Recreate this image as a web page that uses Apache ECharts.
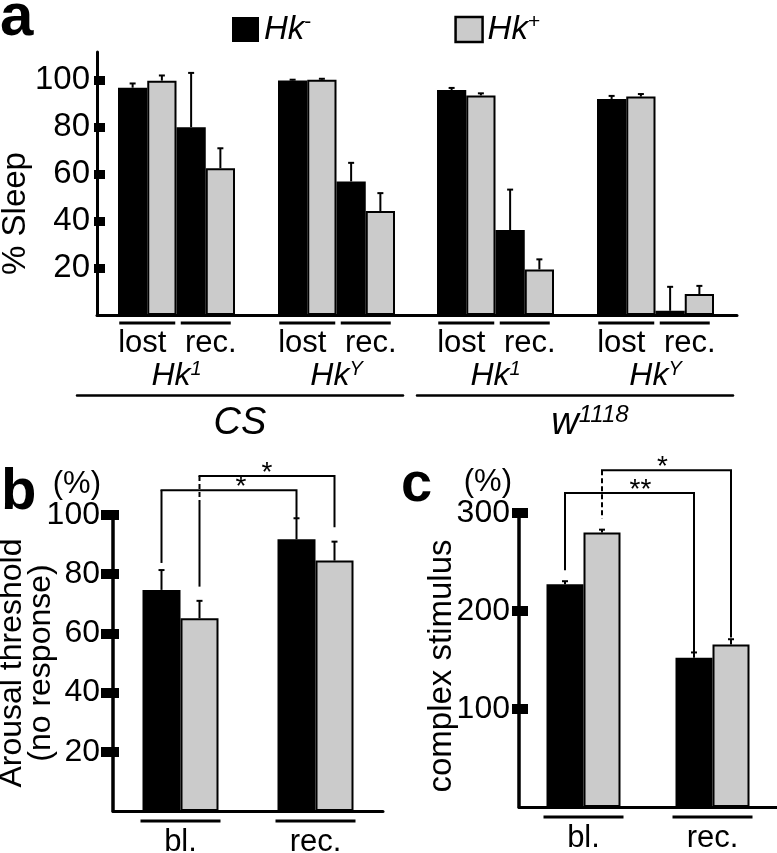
<!DOCTYPE html>
<html>
<head>
<meta charset="utf-8">
<script src="https://cdn.jsdelivr.net/npm/echarts@6/dist/echarts.min.js"></script>
<style>html,body{margin:0;padding:0;background:#fff}#main{width:777px;height:853px}</style>
</head>
<body>
<div id="main"></div>
<script>
// ---------------- data ----------------
const seriesNames = ['Hk-', 'Hk+'];
// panel a
const sleepCats = ['lost', 'rec.'];
const sleepGenotypes = ['{i|Hk}{s|1}', '{i|Hk}{s|Y}', '{i|Hk}{s|1}', '{i|Hk}{s|Y}'];
const sleepStrains = ['{i|CS}', '{i|w}{s|1118}'];
const sleepHkMinus = [96.8, 80.0, 99.9, 56.9, 95.8, 36.2, 92.0, 1.8];
const sleepHkMinusErr = [1.8, 23.1, 0.3, 7.9, 0.9, 17.2, 1.3, 10.2];
const sleepHkPlus = [99.8, 62.5, 100.2, 44.3, 93.5, 19.4, 93.0, 8.9];
const sleepHkPlusErr = [2.2, 8.5, 0.4, 7.6, 0.9, 4.3, 1.1, 3.5];
const sleepTicks = [20, 40, 60, 80, 100];
// panel b
const arousalCats = ['bl.', 'rec.'];
const arousalHkMinus = [74.7, 91.8];
const arousalHkMinusErr = [6.7, 7.1];
const arousalHkPlus = [65.1, 84.6];
const arousalHkPlusErr = [5.9, 6.4];
const arousalTicks = [20, 40, 60, 80, 100];
// brackets: [catFrom, seriesFrom, legFrom, catTo, seriesTo, legTo, level]
const arousalBrackets = [[0, 0, 83.8, 1, 0, 99.0, 108.4], [0, 1, 75.8, 1, 1, 95.9, 113.2]];
const arousalMarks = ['*', '*'];
// panel c
const complexCats = ['bl.', 'rec.'];
const complexHkMinus = [227.3, 152.2];
const complexHkMinusErr = [3.1, 5.5];
const complexHkPlus = [280.0, 165.8];
const complexHkPlusErr = [3.0, 5.4];
const complexTicks = [100, 200, 300];
const complexBrackets = [[0, 0, 241.6, 1, 0, 156.7, 320.4], [0, 1, 294.3, 1, 1, 173.0, 343.5]];
const complexMarks = ['**', '*'];

// ---------------- style ----------------
const FONT = 'Liberation Sans, Arial, Helvetica, sans-serif';
const BLACK = '#000000';
const GRAY = '#cbcbcb';
const barStyles = [
  { color: BLACK, borderColor: BLACK, borderWidth: 2 },
  { color: GRAY, borderColor: BLACK, borderWidth: 2 }
];
const subLefts = [118, 278, 437, 597];

function errRenderer(offsetFn) {
  return function (params, api) {
    const cat = api.value(0), mean = api.value(1), err = api.value(2);
    const p0 = api.coord([cat, mean]);
    const p1 = api.coord([cat, mean + err]);
    const x = p0[0] + offsetFn(api);
    const st = { stroke: BLACK, lineWidth: 2 };
    return {
      type: 'group', children: [
        { type: 'line', shape: { x1: x, y1: p0[1], x2: x, y2: p1[1] }, style: st },
        { type: 'line', shape: { x1: x - 3, y1: p1[1], x2: x + 3, y2: p1[1] }, style: st }
      ]
    };
  };
}
function bracketRenderer(half, marks, dashes, markShift) {
  return function (params, api) {
    const c1 = api.value(0), s1 = api.value(1), l1 = api.value(2);
    const c2 = api.value(3), s2 = api.value(4), l2 = api.value(5), lv = api.value(6);
    const a = api.coord([c1, l1]), b = api.coord([c2, l2]), top = api.coord([c1, lv]);
    const x1 = a[0] + (s1 ? half : -half), x2 = b[0] + (s2 ? half : -half);
    const yL = top[1];
    const st = { stroke: BLACK, lineWidth: 2 };
    const dash = dashes[params.dataIndex];
    const kids = [];
    if (dash > 0) {
      const yd = Math.min(a[1], yL + dash);
      kids.push({ type: 'line', shape: { x1: x1, y1: yL, x2: x1, y2: yd }, style: { stroke: BLACK, lineWidth: 2, lineDash: [5, 3] } });
      if (yd < a[1]) kids.push({ type: 'line', shape: { x1: x1, y1: yd, x2: x1, y2: a[1] }, style: st });
    } else {
      kids.push({ type: 'line', shape: { x1: x1, y1: a[1], x2: x1, y2: yL }, style: st });
    }
    kids.push({ type: 'polyline', shape: { points: [[x1 - 1, yL], [x2, yL], [x2, b[1]]] }, style: { stroke: BLACK, lineWidth: 2, fill: null } });
    kids.push({ type: 'text', style: { text: marks[params.dataIndex], x: (x1 + x2) / 2 + markShift[params.dataIndex], y: yL - 3, align: 'center', verticalAlign: 'middle', font: '28px ' + FONT, fill: BLACK } });
    return { type: 'group', children: kids };
  };
}

const grids = [];
const xAxes = [];
const yAxes = [];
const series = [];

// ---- panel a frame ----
grids.push({ left: 97, top: 52, width: 640, height: 263, outerBoundsMode: 'none' });
xAxes.push({ gridIndex: 0, type: 'category', data: [''], axisLine: { lineStyle: { color: BLACK, width: 3 } }, axisTick: { show: false }, axisLabel: { show: false } });
yAxes.push({
  gridIndex: 0, type: 'value', position: 'left', min: 0, max: 112, splitLine: { show: false },
  axisLine: { show: true, lineStyle: { color: BLACK, width: 3 } },
  axisTick: { show: true, length: 3, customValues: sleepTicks, lineStyle: { color: BLACK, width: 9 } },
  axisLabel: { customValues: sleepTicks, fontSize: 33, fontFamily: FONT, color: BLACK, margin: 7 },
  name: '% Sleep', nameLocation: 'middle', nameRotate: 90, nameGap: 65, nameMoveOverlap: false,
  nameTextStyle: { fontSize: 33, fontFamily: FONT, color: BLACK, padding: [0, 60, 0, 0] }
});
yAxes.push({
  gridIndex: 0, type: 'value', position: 'left', offset: 0, min: 0, max: 112, splitLine: { show: false },
  axisLine: { show: false }, axisLabel: { show: false },
  axisTick: { show: true, inside: true, length: 8, customValues: sleepTicks, lineStyle: { color: BLACK, width: 9 } }
});

// ---- panel a sub grids ----
const catLabelRich = {
  u0: { width: 46, height: 3, lineHeight: 6, backgroundColor: BLACK, padding: [0, 10, 0, 0] },
  t0: { fontSize: 31, lineHeight: 34, fontFamily: FONT, color: BLACK, padding: [0, 10, 0, 0] },
  u1: { width: 46, height: 3, lineHeight: 6, backgroundColor: BLACK, padding: [0, 0, 0, 4] },
  t1: { fontSize: 31, lineHeight: 34, fontFamily: FONT, color: BLACK, padding: [0, 0, 0, 10] }
};
for (let i = 0; i < 4; i++) {
  const g = grids.length;
  grids.push({ left: subLefts[i], top: 52, width: 117, height: 263, outerBoundsMode: 'none' });
  const xi = xAxes.length;
  xAxes.push({
    gridIndex: g, type: 'category', data: sleepCats,
    axisLine: { show: false }, axisTick: { show: false },
    axisLabel: {
      interval: 0, margin: 5, formatter: (v, idx) => '{u' + idx + '|}\n{t' + idx + '|' + v + '}',
      rich: catLabelRich
    },
    name: sleepGenotypes[i], nameLocation: 'middle', nameGap: 44, nameMoveOverlap: false,
    nameTextStyle: {
      rich: {
        i: { fontSize: 32, fontStyle: 'italic', fontFamily: FONT, color: BLACK, lineHeight: 34 },
        s: { fontSize: 20, fontStyle: 'italic', fontFamily: FONT, color: BLACK, lineHeight: 25, verticalAlign: 'top' }
      }
    }
  });
  const yi = yAxes.length;
  yAxes.push({ gridIndex: g, type: 'value', min: 0, max: 112, show: false });
  const vals = [sleepHkMinus, sleepHkPlus];
  const errs = [sleepHkMinusErr, sleepHkPlusErr];
  for (let s = 0; s < 2; s++) {
    series.push({
      type: 'bar', name: seriesNames[s], xAxisIndex: xi, yAxisIndex: yi,
      barGap: '0%', barCategoryGap: '0%', itemStyle: barStyles[s],
      data: [vals[s][2 * i], vals[s][2 * i + 1]], z: 2
    });
  }
  for (let s = 0; s < 2; s++) {
    series.push({
      type: 'custom', name: seriesNames[s] + ' err', xAxisIndex: xi, yAxisIndex: yi, z: 3,
      renderItem: errRenderer(api => (s ? 1 : -1) * api.size([1, 0])[0] / 4),
      data: [[0, vals[s][2 * i], errs[s][2 * i]], [1, vals[s][2 * i + 1], errs[s][2 * i + 1]]]
    });
  }
}

// ---- strain lines (CS / w1118) ----
const strainBoxes = [{ left: 77, width: 326, pad: [0, 0, 0, 0] }, { left: 417, width: 316, pad: [0, 0, 0, 30] }];
for (let k = 0; k < 2; k++) {
  const g = grids.length;
  grids.push({ left: strainBoxes[k].left, top: 300, width: strainBoxes[k].width, height: 95, outerBoundsMode: 'none' });
  xAxes.push({
    gridIndex: g, type: 'category', data: [''],
    axisLine: { lineStyle: { color: BLACK, width: 2.5 } }, axisTick: { show: false }, axisLabel: { show: false },
    name: sleepStrains[k], nameLocation: 'middle', nameGap: 8, nameMoveOverlap: false,
    nameTextStyle: {
      padding: strainBoxes[k].pad,
      rich: {
        i: { fontSize: 38, fontStyle: 'italic', fontFamily: FONT, color: BLACK, lineHeight: 40 },
        s: { fontSize: 24, fontStyle: 'italic', fontFamily: FONT, color: BLACK, lineHeight: 25, verticalAlign: 'top' }
      }
    }
  });
  yAxes.push({ gridIndex: g, type: 'value', show: false });
}

// ---- panels b and c ----
function addPanel(opt) {
  const g = grids.length;
  grids.push({ left: opt.left, top: opt.top, width: opt.width, height: opt.height, outerBoundsMode: 'none' });
  const xi = xAxes.length;
  xAxes.push({
    gridIndex: g, type: 'category', data: opt.cats,
    axisLine: { lineStyle: { color: BLACK, width: 3 } }, axisTick: { show: false },
    axisLabel: {
      interval: 0, margin: 6, formatter: v => '{u|}\n{t|' + v + '}',
      rich: {
        u: { width: 80, height: 3, lineHeight: 8, backgroundColor: BLACK },
        t: { fontSize: 31, lineHeight: 34, fontFamily: FONT, color: BLACK }
      }
    }
  });
  const yi = yAxes.length;
  yAxes.push({
    gridIndex: g, type: 'value', position: 'left', min: 0, max: opt.max, interval: opt.interval, splitLine: { show: false },
    axisLine: { show: true, lineStyle: { color: BLACK, width: 3.5 } },
    axisTick: { show: true, length: opt.tickOut, customValues: opt.ticks, lineStyle: { color: BLACK, width: 10 } },
    axisLabel: { customValues: opt.ticks, fontSize: 32, fontFamily: FONT, color: BLACK, margin: opt.labelMargin },
    name: opt.name, nameLocation: 'middle', nameRotate: 90, nameGap: opt.nameGap, nameMoveOverlap: false,
    nameTextStyle: { fontSize: opt.nameSize, lineHeight: 29, fontFamily: FONT, color: BLACK, padding: opt.namePad }
  });
  yAxes.push({
    gridIndex: g, type: 'value', position: 'left', offset: 0, min: 0, max: opt.max, interval: opt.interval, splitLine: { show: false },
    axisLine: { show: false }, axisLabel: { show: false },
    axisTick: { show: true, inside: true, length: opt.tickIn, customValues: opt.ticks, lineStyle: { color: BLACK, width: 10 } },
    name: '(%)', nameLocation: 'end', nameGap: 15, nameMoveOverlap: false,
    nameTextStyle: { fontSize: 31, fontFamily: FONT, color: BLACK, align: 'right', verticalAlign: 'bottom', padding: [0, opt.pctPad, 0, 0] }
  });
  const vals = opt.vals, errs = opt.errs, half = opt.barWidth / 2;
  for (let s = 0; s < 2; s++) {
    series.push({
      type: 'bar', name: seriesNames[s], xAxisIndex: xi, yAxisIndex: yi,
      barGap: '0%', barWidth: opt.barWidth, itemStyle: barStyles[s], data: vals[s], z: 2
    });
  }
  for (let s = 0; s < 2; s++) {
    series.push({
      type: 'custom', name: seriesNames[s] + ' err', xAxisIndex: xi, yAxisIndex: yi, z: 3,
      renderItem: errRenderer(() => (s ? half : -half)),
      data: vals[s].map((v, j) => [j, v, errs[s][j]])
    });
  }
  series.push({
    type: 'custom', name: 'brackets', xAxisIndex: xi, yAxisIndex: yi, z: 4, clip: false,
    renderItem: bracketRenderer(half, opt.marks, opt.dashes, opt.markShift),
    data: opt.brackets
  });
}

addPanel({
  left: 113, top: 515, width: 270, height: 296, cats: arousalCats, max: 100, interval: 20,
  ticks: arousalTicks, tickOut: 12, tickIn: 6, labelMargin: 13,
  name: 'Arousal threshold\n(no response)', nameSize: 32, nameGap: 57, namePad: [0, 0, 0, 0], pctPad: 12,
  vals: [arousalHkMinus, arousalHkPlus], errs: [arousalHkMinusErr, arousalHkPlusErr], barWidth: 38,
  brackets: arousalBrackets, marks: arousalMarks, dashes: [0, 26], markShift: [12, 0]
});
addPanel({
  left: 519, top: 513, width: 258, height: 294, cats: complexCats, max: 300, interval: 100,
  ticks: complexTicks, tickOut: 7, tickIn: 9, labelMargin: 9,
  name: 'complex stimulus', nameSize: 33, nameGap: 63, namePad: [0, 12, 0, 0], pctPad: 7,
  vals: [complexHkMinus, complexHkPlus], errs: [complexHkMinusErr, complexHkPlusErr], barWidth: 37,
  brackets: complexBrackets, marks: complexMarks, dashes: [0, 60], markShift: [11, -4]
});

const chart = echarts.init(document.getElementById('main'), null, { renderer: 'canvas' });
chart.setOption({
  backgroundColor: '#ffffff',
  animation: false,
  textStyle: { fontFamily: FONT },
  grid: grids,
  xAxis: xAxes,
  yAxis: yAxes,
  legend: {
    left: 227, top: 7, itemWidth: 27, itemHeight: 25, itemGap: 143, icon: 'rect',
    selectedMode: false,
    data: [
      { name: 'Hk-', itemStyle: { color: BLACK, borderColor: BLACK, borderWidth: 0 } },
      { name: 'Hk+', itemStyle: { color: GRAY, borderColor: BLACK, borderWidth: 2.5 } }
    ],
    formatter: n => '{i|Hk}{s|' + n.slice(2) + '}',
    textStyle: {
      rich: {
        i: { fontSize: 33, fontStyle: 'italic', fontFamily: FONT, color: BLACK, lineHeight: 35 },
        s: { fontSize: 21, fontFamily: FONT, color: BLACK, lineHeight: 22, verticalAlign: 'top' }
      }
    }
  },
  graphic: [
    { type: 'text', left: 0, top: -12, style: { text: 'a', font: 'bold 60px ' + FONT, fill: BLACK } },
    { type: 'text', left: 1, top: 464, style: { text: 'b', font: 'bold 58px ' + FONT, fill: BLACK } },
    { type: 'text', left: 401, top: 458, style: { text: 'c', font: 'bold 56px ' + FONT, fill: BLACK } }
  ],
  series: series
});
</script>
</body>
</html>
